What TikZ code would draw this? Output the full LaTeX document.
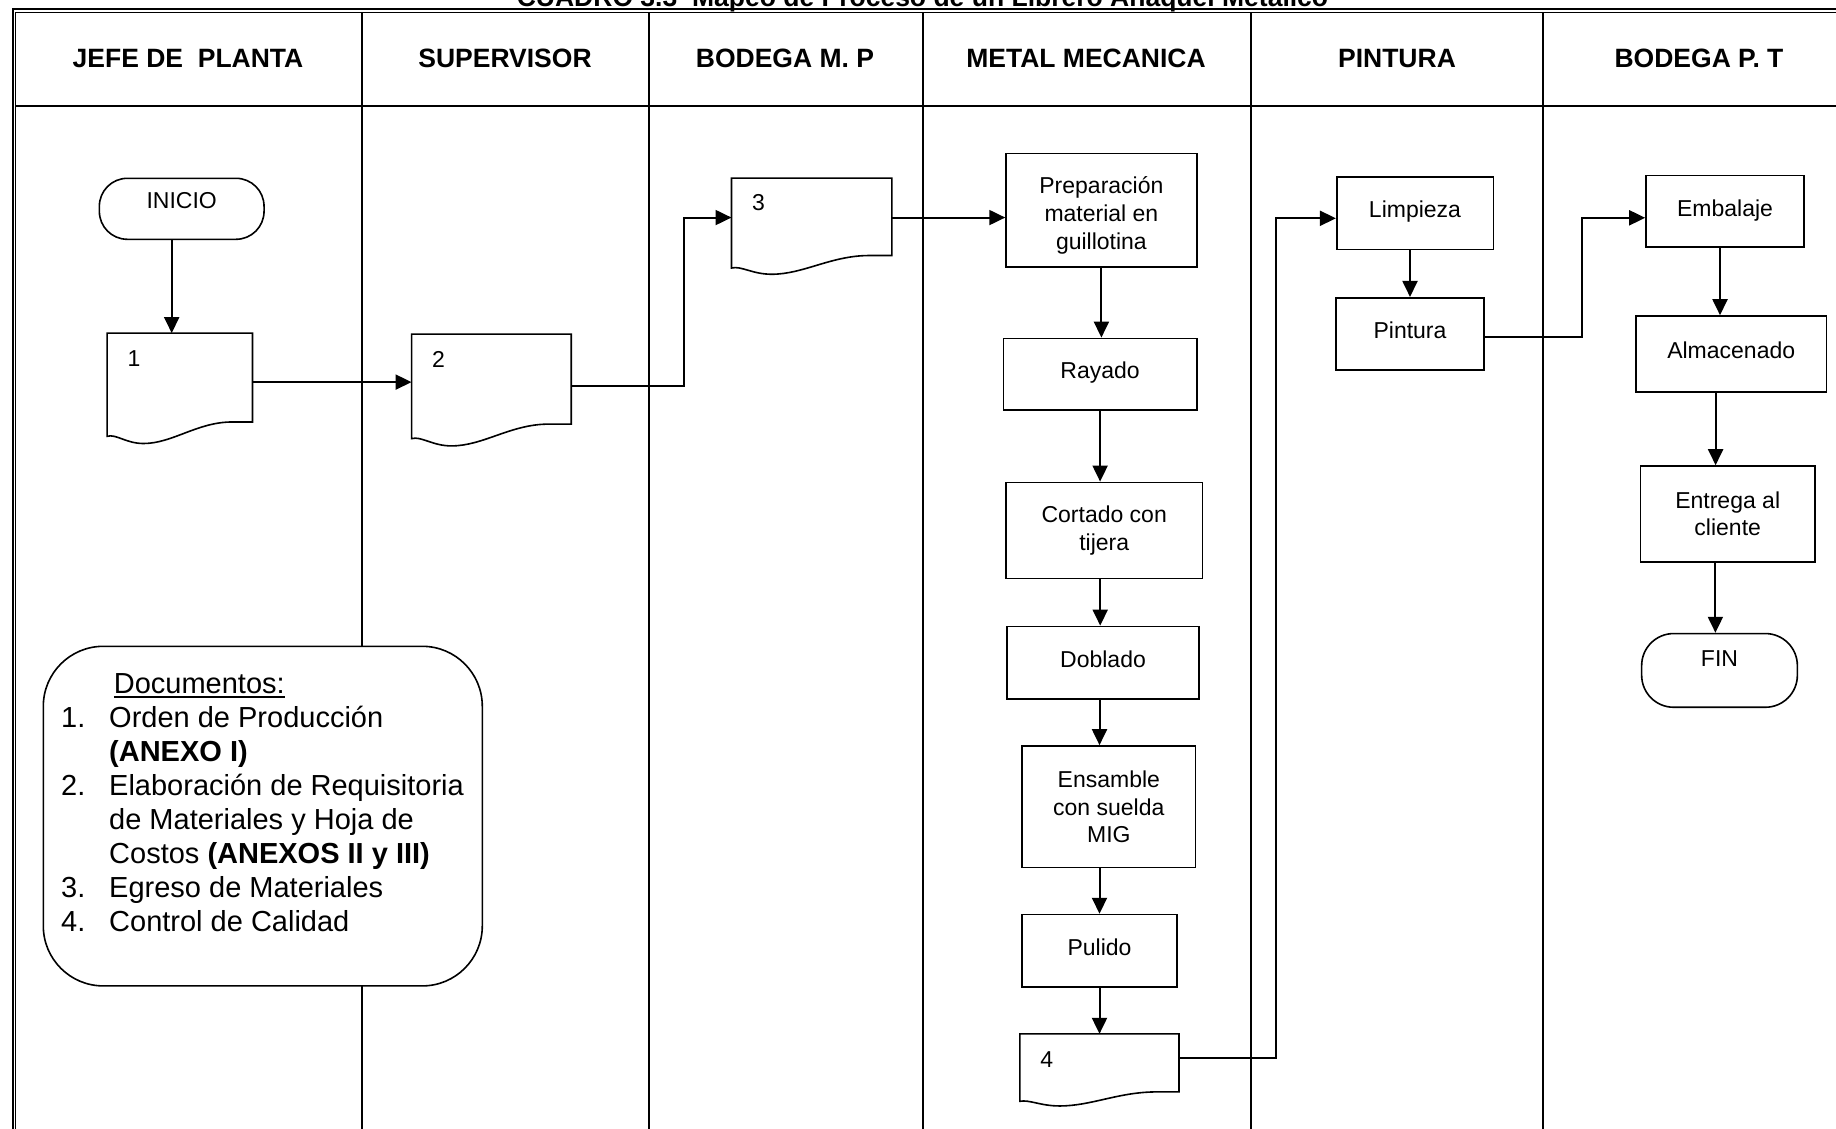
\documentclass[tikz,border=0pt]{standalone}
\usepackage{fontspec}
\setmainfont{Liberation Sans}
\usetikzlibrary{arrows.meta,calc}

% underline drawn as a rule just below the baseline
\newcommand\ulword[1]{\setbox0\hbox{#1}\rlap{\rule[-5pt]{\wd0}{1.8pt}}\box0}

% outline of a flowchart "document" symbol drawn over a named node
\newcommand\docoutline[1]{%
  \draw[boxline] let \p1=(#1.north west), \p2=(#1.south east),
      \n1={\x2-\x1}, \n2={\y1-\y2} in
    ({\x1},{\y1}) -- ({\x2},{\y1}) -- ({\x2},{\y1-0.805*\n2})
    -- ({\x2-0.14*\n1},{\y1-0.805*\n2})
    .. controls ({\x1+0.62*\n1},{\y1-0.805*\n2}) and ({\x1+0.45*\n1},{\y2}) .. ({\x1+0.25*\n1},{\y2})
    .. controls ({\x1+0.13*\n1},{\y2}) and ({\x1+0.06*\n1},{\y1-0.91*\n2}) .. ({\x1},{\y1-0.935*\n2})
    -- cycle;}

\begin{document}
\begin{tikzpicture}[x=1pt,y=-1pt,
  boxline/.style={line width=1.6pt},
  proc/.style={draw, line width=1.6pt, inner sep=0pt, align=center,
    font=\fontsize{23}{27.5}\selectfont},
  procone/.style={proc, text height=17pt, text depth=7.5pt},
  term/.style={proc, rounded corners=28pt, text height=16.5pt, text depth=16.5pt},
  docnode/.style={inner sep=0pt},
  doclabel/.style={inner sep=0pt, font=\fontsize{23}{27}\selectfont},
  arr/.style={line width=2pt, -{Triangle[length=16pt,width=15pt]}},
  lane/.style={line width=2pt},
  head/.style={inner sep=0pt, font=\fontsize{26.5}{30}\selectfont\bfseries}
]
\useasboundingbox (0,0) rectangle (1836,1128);
\clip (0,0) rectangle (1836,1128);
\fill[white] (0,0) rectangle (1836,1128);

% title line at the top edge
\node[head, anchor=base] (title) at (922.5,6)
  {CUADRO 3.3\ \ Mapeo de Proceso de un Librero Anaquel Metalico};

% double outer frame
\draw[line width=2pt] (12.7,1140) -- (12.7,9.3) -- (1850,9.3);
\draw[line width=1.7pt] (15.5,1140) -- (15.5,12.5) -- (1850,12.5);
% header separator
\draw[line width=2.4pt] (15.5,106) -- (1850,106);
% lane dividers
\foreach \lx in {362,648.7,922.7,1250.5,1543}
  \draw[lane] (\lx,12.5) -- (\lx,1140);

% lane headings
\node[head] (h1) at (188,58.5) {JEFE DE\ \ PLANTA};
\node[head] (h2) at (505,58.5) {SUPERVISOR};
\node[head] (h3) at (785,58.5) {BODEGA M. P};
\node[head] (h4) at (1086,58.5) {METAL MECANICA};
\node[head] (h5) at (1397,58.5) {PINTURA};
\node[head] (h6) at (1699,58.5) {BODEGA P. T};

% JEFE DE PLANTA
\node[term, minimum width=164.7pt, minimum height=61pt] (inicio) at (181.7,208.8) {INICIO};
\node[docnode, minimum width=145pt, minimum height=110pt] (doc1) at (179.8,388.3) {};
\docoutline{doc1}
\node[doclabel] (d1) at ($(doc1.north west)+(27,25)$) {1};

% SUPERVISOR
\node[docnode, minimum width=159.3pt, minimum height=111.4pt] (doc2) at (491.4,390) {};
\docoutline{doc2}
\node[doclabel] (d2) at ($(doc2.north west)+(27,25)$) {2};

% BODEGA M. P
\node[docnode, minimum width=160pt, minimum height=95.7pt] (doc3) at (811.7,226.2) {};
\docoutline{doc3}
\node[doclabel] (d3) at ($(doc3.north west)+(27,24.5)$) {3};

% METAL MECANICA
\node[proc, minimum width=190.7pt, minimum height=113.6pt, font=\fontsize{23}{28}\selectfont]
  (prep) at (1101.4,210.2)
  {\rule{0pt}{27pt}Preparación\\material en\\guillotina};
\node[procone, minimum width=193.2pt, minimum height=71.4pt] (rayado) at (1100.1,374.1) {Rayado};
\node[proc, minimum width=196.7pt, minimum height=96pt] (cortado) at (1104.2,530.4)
  {Cortado con\\tijera};
\node[procone, minimum width=192pt, minimum height=72.6pt] (doblado) at (1103,662.7) {Doblado};
\node[proc, minimum width=173.5pt, minimum height=121.7pt] (ensamble) at (1108.8,806.8)
  {Ensamble\\con suelda\\MIG};
\node[procone, minimum width=155pt, minimum height=72.5pt] (pulido) at (1099.5,950.8) {Pulido};
\node[docnode, minimum width=158.7pt, minimum height=71.7pt] (doc4) at (1099.4,1069.9) {};
\docoutline{doc4}
\node[doclabel] (d4) at ($(doc4.north west)+(27,26)$) {4};

% PINTURA
\node[procone, minimum width=156.6pt, minimum height=72.6pt] (limpieza) at (1415,213) {Limpieza};
\node[procone, minimum width=148pt, minimum height=72.3pt] (pintura) at (1410,333.9) {Pintura};

% BODEGA P. T
\node[procone, minimum width=158pt, minimum height=71.4pt] (embalaje) at (1725,211.3) {Embalaje};
\node[procone, minimum width=190.9pt, minimum height=76pt] (almacen) at (1731.2,354) {Almacenado};
\node[proc, minimum width=174.6pt, minimum height=96pt] (entrega) at (1727.7,514)
  {Entrega al\\cliente};
\node[term, minimum width=155.7pt, minimum height=73.7pt, rounded corners=32pt,
  text depth=25pt] (fin) at (1719.5,670.4) {FIN};

% list of documents
\node[draw, fill=white, line width=1.6pt, rounded corners=60pt, minimum width=439pt,
  minimum height=339.6pt] (docbox) at (262.8,816.1) {};
\node[anchor=north west, inner sep=0pt, font=\fontsize{29}{34}\selectfont]
  (doclist) at (61,669.2) {%
  \begin{tabular}{@{}p{48pt}@{}l@{}}
    & \hspace{4.7pt}\ulword{Documentos:}\\
  1. & Orden de Producción\\
     & \textbf{(ANEXO I)}\\
  2. & Elaboración de Requisitoria\\
     & de Materiales y Hoja de\\
     & Costos \textbf{(ANEXOS II y III)}\\
  3. & Egreso de Materiales\\
  4. & Control de Calidad
  \end{tabular}};

% connectors
\draw[arr] ([xshift=-10pt]inicio.south) coordinate (a1) -- (a1 |- doc1.north);
\draw[arr] ([yshift=-49pt]doc1.north east) coordinate (a2) -- (a2 -| doc2.west);
\draw[arr] ([yshift=-51.4pt]doc2.north east) -- ++(112.7,0) |- ([yshift=-39.4pt]doc3.north west);
\draw[arr] ([yshift=-39.4pt]doc3.north east) coordinate (a4) -- (a4 -| prep.west);
\draw[arr] (prep.south) -- (prep.south |- rayado.north);
\draw[arr] (rayado.south) -- (rayado.south |- cortado.north);
\draw[arr] ([xshift=-4pt]cortado.south) coordinate (a7) -- (a7 |- doblado.north);
\draw[arr] ([xshift=-3.5pt]doblado.south) coordinate (a8) -- (a8 |- ensamble.north);
\draw[arr] (pulido.north |- ensamble.south) -- (pulido.north);
\draw[arr] (pulido.south) -- (pulido.south |- doc4.north);
\draw[arr] ([yshift=-24.3pt]doc4.north east) -- ++(97.3,0) |- ([yshift=-5.3pt]limpieza.west);
\draw[arr] (pintura.north |- limpieza.south) -- (pintura.north);
\draw[arr] ([yshift=-3pt]pintura.east) -- ++(96.7,0) |- ([yshift=-6.5pt]embalaje.west);
\draw[arr] ([xshift=-5pt]embalaje.south) coordinate (b1) -- (b1 |- almacen.north);
\draw[arr] ([xshift=-15.6pt]almacen.south) coordinate (b2) -- (b2 |- entrega.north);
\draw[arr] ([xshift=-12.3pt]entrega.south) coordinate (b3) -- (b3 |- fin.north);
\end{tikzpicture}
\end{document}
